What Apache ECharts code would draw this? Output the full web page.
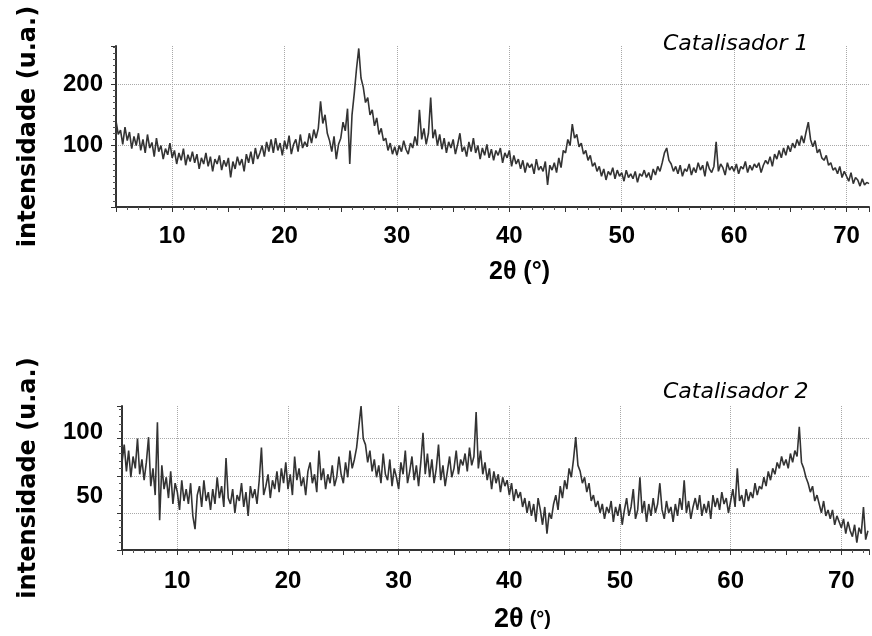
<!DOCTYPE html>
<html><head><meta charset="utf-8">
<script src="https://cdn.jsdelivr.net/npm/echarts@6/dist/echarts.min.js"></script>
<style>html,body{margin:0;padding:0;background:#fff}#c{width:872px;height:636px}</style>
</head><body><div id="c"></div>
<script>
// sampling grid of 2θ (degrees)
const START = 5, STEP = 0.2;

// Catalisador 1 intensities, 5.0° .. 72.0° every 0.2°
const catalisador1 = [
140,118,125,102,130, 108,122,95,115,100, 120,92,110,88,118, 96,105,82,112,90, 100,78,95,85,104,
80,92,70,88,76, 95,68,85,74,90, 72,86,62,80,70, 88,66,82,58,78, 70,84,60,76,66,
80,48,74,62,82, 68,78,58,86,72, 90,70,96,78,88, 100,82,106,90,110, 88,112,92,104,84,
108,94,116,86,102, 110,90,118,96,106, 98,120,104,126,112, 128,172,136,150,120, 108,90,115,78,102,
112,138,124,160,70, 150,185,225,258,210, 195,170,178,150,158, 132,145,118,128,108, 112,92,104,86,98,
84,100,90,108,94, 86,104,96,115,100, 158,110,128,102,120, 178,112,126,100,118, 94,112,88,106,96,
110,86,102,120,90, 98,82,106,90,112, 88,100,78,96,84, 102,80,94,76,92, 84,96,72,88,80,
92,66,84,70,78, 62,76,56,72,64, 70,54,78,60,66, 58,74,36,68,60, 72,56,80,64,92,
88,110,100,135,112, 118,98,104,86,92, 76,84,66,72,58, 66,50,62,44,58, 52,64,46,60,50,
56,42,60,48,54, 46,58,40,54,50, 60,48,56,44,62, 52,66,58,72,88, 96,76,70,58,66,
54,68,50,62,58, 70,52,64,56,72, 60,68,50,74,62, 56,66,106,58,70, 64,52,72,60,66,
58,70,54,66,62, 74,56,68,60,70, 64,72,56,68,76, 70,82,66,86,78, 92,80,96,84,100,
90,104,96,110,100, 116,104,122,138,110, 98,108,88,94,80, 76,84,68,72,60, 64,54,66,48,58,
50,42,56,38,48, 44,34,46,36,40, 38
];

// Catalisador 2 intensities, 5.0° .. 72.4° every 0.2°
const catalisador2 = [
84,96,78,92,74, 88,80,100,76,86, 72,84,101,68,80, 62,111,45,82,66, 74,60,78,56,70,
64,52,72,58,66, 56,70,48,39,62, 68,54,72,58,64, 52,66,56,74,60, 68,54,87,60,56,
66,50,62,58,70, 54,64,48,68,60, 66,56,72,94,62, 68,76,60,72,66, 78,64,80,70,84,
66,76,62,88,72, 80,68,74,62,78, 84,70,76,64,92, 72,80,66,76,70, 82,68,74,88,76,
70,84,74,92,80, 86,94,108,122,100, 96,84,92,78,86, 74,82,70,90,76, 72,86,68,80,74,
66,84,76,92,70, 78,88,72,82,68, 84,104,76,90,74, 86,70,80,96,72, 82,68,78,88,74,
80,92,76,86,82, 90,78,94,82,88, 118,80,92,76,84, 72,80,66,78,70, 76,64,74,68,72,
62,70,58,66,60, 64,54,60,50,58, 48,56,44,60,52, 42,54,36,50,46, 56,62,52,68,60,
72,66,80,74,86, 101,82,78,70,74, 64,70,58,62,54, 58,50,56,46,54, 50,58,44,54,48,
56,42,52,60,48, 54,66,46,52,74, 50,58,44,56,48, 60,50,56,70,52, 46,58,50,54,44,
56,48,60,52,72, 50,58,46,54,60, 52,62,48,56,50, 58,46,62,54,60, 52,64,56,60,50,
58,66,54,80,58, 62,54,66,58,64, 60,70,62,68,66, 74,68,78,72,80, 76,84,80,88,82,
86,80,90,84,92, 88,108,84,80,74, 70,64,68,58,62, 56,50,58,48,52, 46,52,42,48,44,
40,46,36,44,38, 34,42,30,40,36, 54,32,38
];

const xTickLabels = [10, 20, 30, 40, 50, 60, 70];
const yTickLabels1 = [100, 200];
const yTickLabels2 = [50, 100];
const titles = ['Catalisador 1', 'Catalisador 2'];

function toPairs(vals) {
  return vals.map((v, i) => [+(START + i * STEP).toFixed(1), v]);
}

const NUM_FONT = 'Liberation Sans';
const T = 'rgba(0,0,0,0)';
const GRIDC = '#a8a8a8';

function xAxis(gridIndex, max, margin, nameGap, nameText, nameSize) {
  return {
    type: 'value', gridIndex, min: 5, max, interval: 5,
    axisLine: { show: true, onZero: false, lineStyle: { color: '#333', width: 2 } },
    axisTick: { show: true, length: 5, lineStyle: { color: '#333', width: 1 } },
    minorTick: { show: true, splitNumber: 5, length: 3, lineStyle: { color: '#555', width: 1 } },
    splitLine: { show: true, lineStyle: { type: 'dotted', color: [T, GRIDC], width: 1 } },
    axisLabel: {
      margin, color: '#000', fontFamily: NUM_FONT, fontWeight: 'bold', fontSize: 24,
      formatter: v => xTickLabels.includes(v) ? String(v) : ''
    },
    name: nameText, nameLocation: 'middle', nameGap,
    nameTextStyle: {
      color: '#000', fontFamily: NUM_FONT, fontWeight: 'bold', fontSize: nameSize, padding: [0, 0, 0, 54],
      rich: {
        big: { fontFamily: NUM_FONT, fontWeight: 'bold', fontSize: 27, color: '#000' },
        small: { fontFamily: NUM_FONT, fontWeight: 'bold', fontSize: 20, color: '#000' }
      }
    }
  };
}

function yAxis(gridIndex, min, max, interval, minorSplit, splitColors, labels, margin, nameGap, shifts) {
  const rich = {};
  labels.forEach(l => {
    rich['l' + l] = { fontFamily: NUM_FONT, fontWeight: 'bold', fontSize: 24, color: '#000',
      padding: shifts[l] || [0, 0, 0, 0] };
  });
  return {
    type: 'value', gridIndex, min, max, interval,
    axisLine: { show: true, lineStyle: { color: '#333', width: 2 } },
    axisTick: { show: true, length: 5, lineStyle: { color: '#333', width: 1 } },
    minorTick: { show: true, splitNumber: minorSplit, length: 3, lineStyle: { color: '#555', width: 1 } },
    splitLine: { show: true, lineStyle: { type: 'dotted', color: splitColors, width: 1 } },
    axisLabel: {
      margin, color: '#000', fontFamily: NUM_FONT, fontWeight: 'bold', fontSize: 24,
      formatter: v => labels.includes(v) ? '{l' + v + '|' + v + '}' : '',
      rich
    },
    name: 'intensidade (u.a.)', nameLocation: 'middle', nameRotate: 90, nameGap,
    nameTextStyle: { color: '#000', fontFamily: 'DejaVu Sans', fontWeight: 'bold', fontSize: 24 }
  };
}

const chart = echarts.init(document.getElementById('c'), null, { renderer: 'canvas' });
chart.setOption({
  animation: false,
  backgroundColor: '#fff',
  title: titles.map((t, i) => ({
    text: t, left: 663, top: i === 0 ? 33 : 381, padding: 0,
    textStyle: { fontFamily: 'DejaVu Sans', fontStyle: 'italic', fontWeight: 'normal', fontSize: 22, color: '#000' }
  })),
  grid: [
    { left: 116, right: 0, top: 46, bottom: 429, containLabel: false },
    { left: 122, right: 0, top: 406, bottom: 86, containLabel: false }
  ],
  xAxis: [
    xAxis(0, 72, 17, 53, '2θ (°)', 25),
    xAxis(1, 72.5, 19, 56, '{big|2θ} {small|(°)}', 22)
  ],
  yAxis: [
    yAxis(0, 0, 262, 100, 10, [T, GRIDC, GRIDC, T], yTickLabels1, 13, 75, {}),
    yAxis(1, 25, 122, 25, 5, [T, GRIDC, GRIDC, GRIDC, T], yTickLabels2, 19, 81,
      { 100: [0, 0, 12, 0], 50: [0, 0, 34, 0] })
  ],
  series: [
    { type: 'line', xAxisIndex: 0, yAxisIndex: 0, data: toPairs(catalisador1), showSymbol: false,
      lineStyle: { color: '#333', width: 1.6 }, silent: true },
    { type: 'line', xAxisIndex: 1, yAxisIndex: 1, data: toPairs(catalisador2), showSymbol: false,
      lineStyle: { color: '#333', width: 1.6 }, silent: true }
  ]
});
</script>
</body></html>
